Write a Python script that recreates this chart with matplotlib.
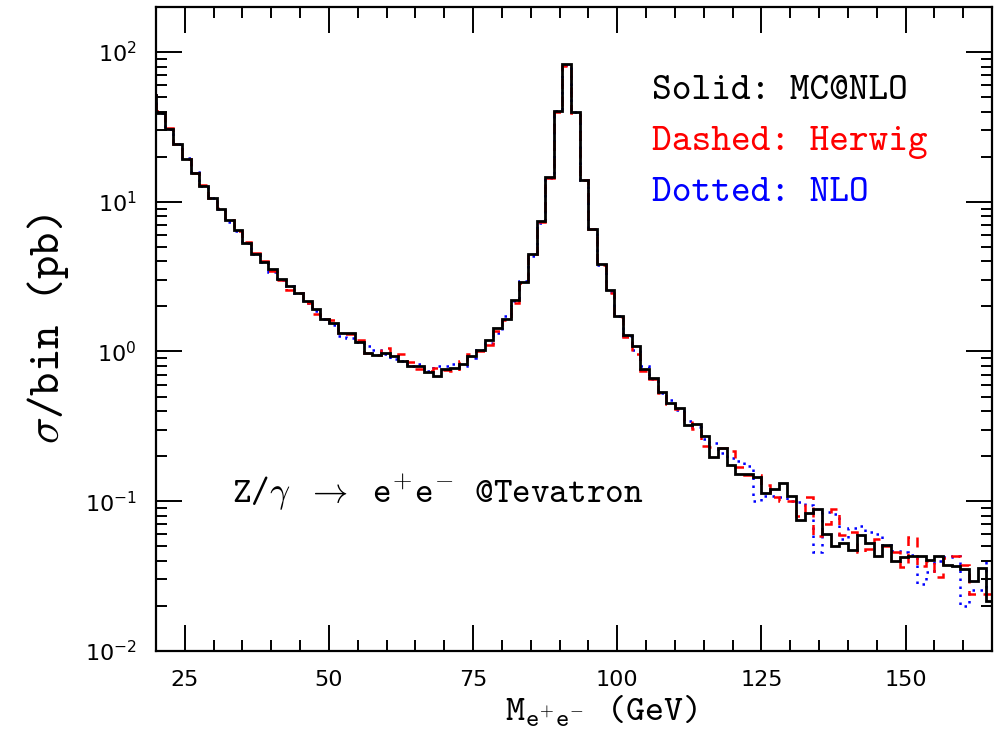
import numpy as np
import matplotlib
matplotlib.use("Agg")
import matplotlib.pyplot as plt
from matplotlib.ticker import MultipleLocator, LogLocator, LogFormatterMathtext, NullFormatter

# ---- data: cross-section per 1.5 GeV bin (pb), bins start at 18.5 GeV ----
bin_start = 18.5
bin_width = 1.5

mcatnlo = [51.7, 39.4, 30.5, 24.2, 19.3, 15.5, 12.8, 10.6, 8.94, 7.59,
           6.44, 5.29, 4.49, 3.98, 3.55, 3.03, 2.75, 2.46, 2.16, 1.91,
           1.66, 1.54, 1.33, 1.32, 1.16, 0.977, 0.948, 0.974, 0.936, 0.862,
           0.798, 0.794, 0.724, 0.684, 0.759, 0.770, 0.819, 0.930, 1.03, 1.20,
           1.44, 1.65, 2.20, 2.92, 4.50, 7.39, 14.6, 40.4, 82.8, 40.0,
           14.0, 6.61, 3.86, 2.59, 1.72, 1.28, 1.08, 0.767, 0.661, 0.535,
           0.455, 0.417, 0.321, 0.326, 0.272, 0.196, 0.226, 0.174, 0.151, 0.151,
           0.144, 0.114, 0.120, 0.132, 0.108, 0.0750, 0.0832, 0.0885, 0.0603, 0.0504,
           0.0529, 0.0475, 0.0596, 0.0522, 0.0432, 0.0509, 0.0400, 0.0421, 0.0432, 0.0432,
           0.0402, 0.0432, 0.0372, 0.0371, 0.0355, 0.0291, 0.0359, 0.0216]

herwig = [51.7, 40.6, 31.3, 24.4, 19.3, 15.6, 12.9, 10.6, 9.08, 7.59,
          6.34, 5.35, 4.55, 4.02, 3.43, 3.00, 2.59, 2.46, 2.12, 1.79,
          1.64, 1.62, 1.31, 1.30, 1.19, 0.970, 0.950, 1.06, 0.930, 0.955,
          0.849, 0.767, 0.740, 0.770, 0.755, 0.739, 0.862, 0.955, 1.00, 1.11,
          1.37, 1.63, 2.11, 2.85, 4.45, 7.30, 14.4, 39.5, 81.0, 38.9,
          13.9, 6.55, 3.76, 2.46, 1.70, 1.25, 0.955, 0.739, 0.659, 0.531,
          0.443, 0.411, 0.343, 0.302, 0.233, 0.231, 0.226, 0.215, 0.168, 0.149,
          0.149, 0.128, 0.106, 0.100, 0.100, 0.0798, 0.106, 0.0587, 0.0703, 0.0885,
          0.0593, 0.0618, 0.0457, 0.0483, 0.0562, 0.0501, 0.0457, 0.0366, 0.0580, 0.0371,
          0.0398, 0.0310, 0.0417, 0.0430, 0.0375, 0.0240, 0.0240, 0.0240]

nlo = [51.7, 39.4, 30.5, 24.2, 19.6, 15.9, 12.8, 10.6, 8.90, 7.32,
       6.40, 5.29, 4.45, 3.95, 3.38, 3.00, 2.72, 2.44, 2.12, 1.85,
       1.64, 1.51, 1.26, 1.23, 1.15, 1.08, 1.02, 0.960, 0.894, 0.860,
       0.800, 0.819, 0.740, 0.798, 0.798, 0.819, 0.798, 0.908, 1.02, 1.14,
       1.33, 1.72, 2.18, 2.94, 4.32, 7.21, 14.5, 40.2, 82.5, 40.0,
       14.0, 6.61, 3.76, 2.48, 1.72, 1.27, 1.03, 0.798, 0.651, 0.530,
       0.471, 0.404, 0.343, 0.311, 0.259, 0.244, 0.209, 0.194, 0.185, 0.172,
       0.100, 0.108, 0.108, 0.106, 0.101, 0.0985, 0.0940, 0.0459, 0.0841, 0.0819,
       0.0558, 0.0661, 0.0687, 0.0621, 0.0603, 0.0509, 0.0466, 0.0455, 0.0437, 0.0280,
       0.0335, 0.0401, 0.0423, 0.0432, 0.0200, 0.0255, 0.0255, 0.0398]

x_ticks = [25, 50, 75, 100, 125, 150]
x_range = (20, 165)
y_range = (0.01, 200)

legend_lines = [("Solid: MC@NLO", "black"),
                ("Dashed: Herwig", "red"),
                ("Dotted: NLO", "blue")]
process_label = r"Z/$\gamma$ $\rightarrow$ e$^{+}$e$^{-}$ @Tevatron"

# ---- plotting ----
plt.rcParams["mathtext.fontset"] = "cm"
plt.rcParams["font.family"] = ["DejaVu Sans"]
TT = ["cmtt10", "Liberation Mono"]

edges = bin_start + bin_width * np.arange(len(mcatnlo) + 1)

fig = plt.figure(figsize=(10, 7.33), dpi=100)
ax = fig.add_axes([0.156, 0.112, 0.836, 0.8785])

ax.stairs(nlo, edges, color="blue", linestyle=(0, (1, 2.2)), linewidth=1.8, baseline=None)
ax.stairs(herwig, edges, color="red", linestyle=(0, (4, 3)), linewidth=1.8, baseline=None)
ax.stairs(mcatnlo, edges, color="black", linestyle="-", linewidth=2.0, baseline=None)

ax.set_yscale("log")
ax.set_xlim(*x_range)
ax.set_ylim(*y_range)

ax.xaxis.set_major_locator(matplotlib.ticker.FixedLocator(x_ticks))
ax.xaxis.set_minor_locator(MultipleLocator(5))
ax.yaxis.set_major_locator(LogLocator(base=10, numticks=10))
ax.yaxis.set_minor_locator(LogLocator(base=10, subs=np.arange(2, 10), numticks=20))
ax.yaxis.set_major_formatter(LogFormatterMathtext())
ax.yaxis.set_minor_formatter(NullFormatter())

for s in ax.spines.values():
    s.set_linewidth(1.6)

ax.tick_params(which="both", direction="in", top=True, right=True, width=1.4)
ax.tick_params(which="major", length=19)
ax.tick_params(which="minor", length=8)
ax.tick_params(axis="x", which="major", labelsize=16, pad=14)
ax.tick_params(axis="y", which="major", labelsize=16, pad=14)

ax.set_xlabel(r"M$_{\mathtt{e^{+}e^{-}}}$ (GeV)", fontsize=26, family=TT)
ax.xaxis.set_label_coords(0.532, -0.066)
ax.set_ylabel(r"$\sigma$/bin (pb)", fontsize=32, family=TT, labelpad=10)

for i, (txt, col) in enumerate(legend_lines):
    ax.text(0.593, 0.868 - i * 0.079, txt, transform=ax.transAxes, color=col,
            fontsize=27, family=TT, va="center", ha="left")

ax.text(0.091, 0.245, process_label, transform=ax.transAxes, color="black",
        fontsize=25.5, family=TT, va="center", ha="left")

fig.savefig("out.png", dpi=100)
